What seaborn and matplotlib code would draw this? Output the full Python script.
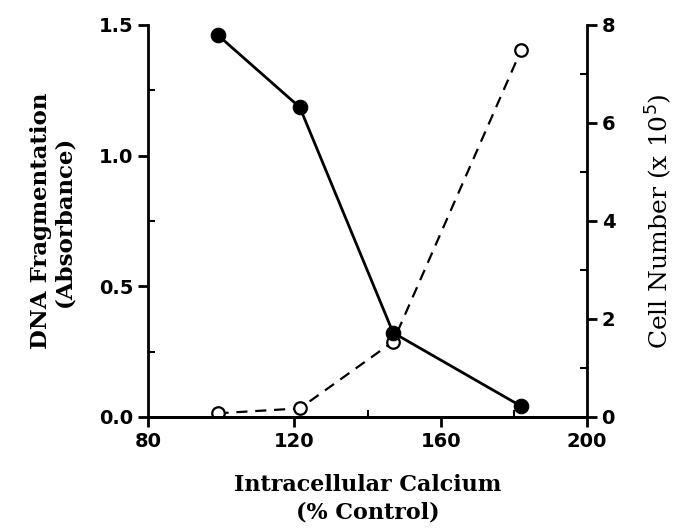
import matplotlib
matplotlib.use("Agg")
import matplotlib.pyplot as plt
import seaborn as sns
import pandas as pd
from matplotlib.ticker import MultipleLocator

sns.set_theme(style="white")
plt.rcParams['font.family'] = ['DejaVu Sans']
plt.rcParams['text.color'] = 'black'
plt.rcParams['axes.labelcolor'] = 'black'

calcium = [99, 121.5, 147, 182]
dna_fragmentation = [0.014, 0.033, 0.288, 1.404]   # open circles, dashed, left axis
cell_number = [7.80, 6.32, 1.72, 0.22]             # filled circles, solid, right axis

x_ticks = [80, 120, 160, 200]
left_ticks = [0.0, 0.5, 1.0, 1.5]
right_ticks = [0, 2, 4, 6, 8]

df = pd.DataFrame({"calcium": calcium, "dna": dna_fragmentation, "cells": cell_number})

fig = plt.figure(figsize=(6.76, 5.28), dpi=100)
ax = fig.add_axes([148/676, 1 - 417/528, (587-148)/676, (417-25)/528])
ax2 = ax.twinx()

sns.lineplot(data=df, x="calcium", y="dna", ax=ax, color="black", linewidth=1.6,
             linestyle=(0, (5, 3.5)), marker="o", markersize=9, markerfacecolor="white",
             markeredgecolor="black", markeredgewidth=1.6)
sns.lineplot(data=df, x="calcium", y="cells", ax=ax2, color="black", linewidth=2.0,
             marker="o", markersize=10.5, markerfacecolor="black", markeredgecolor="black")

ax.set_xlim(80, 200)
ax.set_ylim(0, 1.5)
ax2.set_ylim(0, 8)
ax.set_xticks(x_ticks)
ax.set_yticks(left_ticks)
ax2.set_yticks(right_ticks)
ax.set_yticklabels([f"{v:.1f}" for v in left_ticks])
ax2.set_yticklabels([str(v) for v in right_ticks])
ax.xaxis.set_minor_locator(MultipleLocator(20))
ax.yaxis.set_minor_locator(MultipleLocator(0.25))
ax2.yaxis.set_minor_locator(MultipleLocator(1))

for a in (ax, ax2):
    for s in a.spines.values():
        s.set_linewidth(2.0)
        s.set_color("black")
    a.spines["top"].set_visible(False)
    a.tick_params(which="major", direction="out", length=7, width=2.0, colors="black",
                  labelsize=14)
    a.tick_params(which="minor", direction="in", length=5, width=1.5, colors="black")
ax.spines["right"].set_visible(False)
ax2.spines["left"].set_visible(False)
ax.tick_params(axis="both", which="both", left=True, bottom=True)
ax2.tick_params(axis="y", which="both", right=True)
for lab in ax.get_xticklabels() + ax.get_yticklabels() + ax2.get_yticklabels():
    lab.set_fontweight("bold")

ax.set_xlabel("Intracellular Calcium\n(% Control)", fontsize=16, family="DejaVu Serif",
              fontweight="semibold", labelpad=17, linespacing=1.3)
ax.set_ylabel("DNA Fragmentation\n(Absorbance)", fontsize=16.5, family="DejaVu Serif",
              fontweight="bold", labelpad=17, linespacing=1.05)
ax2.set_ylabel("Cell Number (x 10$^5$)", fontsize=18, family="DejaVu Serif",
               labelpad=20)
ax.grid(False)
ax2.grid(False)

fig.savefig("out.png", dpi=100)
